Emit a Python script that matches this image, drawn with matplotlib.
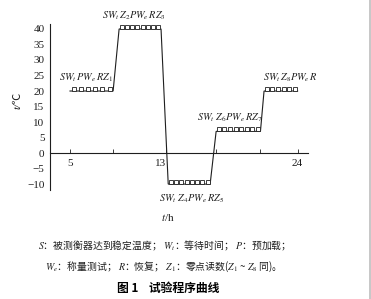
import numpy as np
import matplotlib
matplotlib.use("Agg")
import matplotlib.pyplot as plt
from matplotlib.patches import Rectangle
from matplotlib.transforms import ScaledTranslation

plt.rcParams['font.family'] = ['Noto Sans CJK SC', 'DejaVu Sans']
plt.rcParams['mathtext.fontset'] = 'stix'
plt.rcParams['axes.unicode_minus'] = True

# Test schedule: time (h) and chamber temperature (°C)
time_h = [5.0, 8.6, 9.1, 12.6, 13.2, 16.7, 17.2, 20.9, 21.2, 24.0]
temp_c = [20, 20, 40, 40, -10, -10, 7, 7, 20, 20]

# Temperature plateaus with their reading marks and procedure labels
plateau_start = [5.0, 9.1, 13.2, 17.2, 21.2]
plateau_end = [8.6, 12.6, 16.7, 20.9, 24.0]
plateau_temp = [20, 40, -10, 7, 20]
plateau_marks = [6, 8, 8, 8, 6]
plateau_labels = [
    r"$SW_t\,PW_e\,RZ_1$",
    r"$SW_t\,Z_2PW_e\,RZ_3$",
    r"$SW_t\,\,Z_4PW_e\,RZ_5$",
    r"$SW_t\,\,Z_6PW_e\,RZ_7$",
    r"$SW_t\,Z_8PW_e\,R$",
]

x_major = [5, 13, 24]
x_minor = [8.6, 17.2, 20.9]
y_ticks = list(range(-10, 45, 5))

ink = '#1e1e1e'
serif = ['Liberation Serif', 'Noto Sans CJK SC']

fig = plt.figure(figsize=(3.71, 2.99), dpi=100)
fig.patch.set_facecolor('white')
ax = fig.add_axes([50 / 371, 1 - 190 / 299, 258 / 371, 166 / 299])
ax.set_xlim(3.33, 24.87)
ax.set_ylim(-11.9, 41.6)

# curve
ax.plot(time_h, temp_c, color=ink, lw=0.8, solid_joinstyle='miter')

# reading marks: small open squares resting on each plateau
ms = 3.3
lift = ScaledTranslation(0, ms / 2 / 72, fig.dpi_scale_trans)
for s, e, t, n in zip(plateau_start, plateau_end, plateau_temp, plateau_marks):
    step = (e - s) / n
    xs = s + (np.arange(n) + 0.5) * step
    ax.plot(xs, [t] * n, ls='none', marker='s', ms=ms, mfc='white',
            mec=ink, mew=0.6, transform=ax.transData + lift, clip_on=False)

# plateau labels
label_pos = [
    dict(x=plateau_end[0], ha='right', dx=0, dy=5, va='bottom'),
    dict(x=plateau_end[1], ha='right', dx=3.5, dy=5, va='bottom'),
    dict(x=(plateau_start[2] + plateau_end[2]) / 2, ha='center', dx=1.5, dy=-6, va='top'),
    dict(x=plateau_end[3], ha='right', dx=1.5, dy=5, va='bottom'),
    dict(x=plateau_start[4], ha='left', dx=-1, dy=5, va='bottom'),
]
for lab, t, p in zip(plateau_labels, plateau_temp, label_pos):
    ax.annotate(lab, xy=(p['x'], t), xytext=(p['dx'], p['dy']),
                textcoords='offset points', ha=p['ha'], va=p['va'],
                fontsize=7.4, color=ink)

# axes styling
for side in ('top', 'right'):
    ax.spines[side].set_visible(False)
ax.spines['bottom'].set_position(('data', 0))
for side in ('left', 'bottom'):
    ax.spines[side].set_linewidth(0.8)
    ax.spines[side].set_color(ink)

ax.set_xticks(x_major)
ax.set_xticks(x_minor, minor=True)
ax.set_xticklabels([str(v) for v in x_major])
ax.tick_params(axis='x', which='both', direction='in', length=3, width=0.6,
               color=ink, pad=4, labelsize=8, labelcolor=ink)
ax.set_yticks(y_ticks)
ax.set_yticklabels([str(v).replace('-', '\u2212') for v in y_ticks])
ax.tick_params(axis='y', length=0, pad=4, labelsize=8, labelcolor=ink)
for lbl in ax.get_xticklabels() + ax.get_yticklabels():
    lbl.set_family(serif)
for lbl, v in zip(ax.get_xticklabels(), x_major):
    if v == 13:
        lbl.set_horizontalalignment('right')

ax.set_xlabel('$t$/h', fontsize=8, family=serif, color=ink)
ax.xaxis.set_label_coords(0.457, -0.135)
# plain text so the degree-Celsius sign can fall back to the CJK font
ax.set_ylabel('t/\u2103', fontsize=8, family=serif, style='italic', color=ink)
ax.yaxis.set_label_coords(-0.108, 0.54)

# caption
cap_size = 7.1
fig.text(38 / 371, 1 - 246 / 299,
         '$S$：被测衡器达到稳定温度； $W_t$：等待时间； $P$：预加载；',
         fontsize=cap_size, ha='left', va='center', color=ink)
fig.text(45 / 371, 1 - 267 / 299,
         '$W_e$：称量测试； $R$：恢复； $Z_1$：零点读数($Z_1$ ~ $Z_8$ 同)。',
         fontsize=cap_size, ha='left', va='center', color=ink)
fig.text(117 / 371, 1 - 288 / 299, '图 1    试验程序曲线',
         fontsize=8.5, fontweight='bold', ha='left', va='center', color='black')

# page edge
fig.patches.append(Rectangle((369 / 371, 0), 2 / 371, 1, transform=fig.transFigure,
                             facecolor='#c8c8c8', edgecolor='none'))

fig.savefig('out.png', dpi=100)
